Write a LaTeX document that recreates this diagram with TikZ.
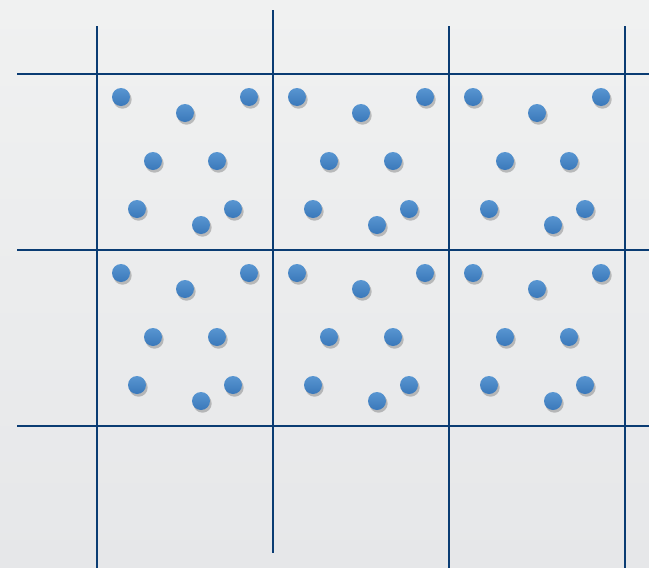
\documentclass[tikz,border=0pt]{standalone}
\usetikzlibrary{calc}
\definecolor{gridblue}{RGB}{10,60,115}
\definecolor{dotblue}{RGB}{70,138,204}
\definecolor{dotshade}{RGB}{58,120,186}
\definecolor{bgtop}{RGB}{240,241,241}
\definecolor{bgbot}{RGB}{230,231,233}
\tikzset{
  gridline/.style={draw=gridblue, line width=2pt},
  dotshadow/.style={fill=black, opacity=0.22},
  dotfill/.style={top color=dotblue!90!white, bottom color=dotshade},
}
\begin{document}
\begin{tikzpicture}[x=1pt,y=-1pt]
\shade[top color=bgtop, bottom color=bgbot] (0,0) rectangle (649,568);
\useasboundingbox (0,0) rectangle (649,568);
% dots
\foreach \cx in {97,273,449}{
  \foreach \cy in {74,250}{
    \foreach \dx/\dy in {24/23,88/39,152/23,56/87,120/87,40/135,104/151,136/135}{
      \fill[dotshadow] (\cx+\dx+1.5,\cy+\dy+2.5) circle (9.2);
      \shade[dotfill] (\cx+\dx,\cy+\dy) circle (9);
    }
  }
}
% horizontal lines
\foreach \y in {74,250,426}{
  \draw[gridline] (17,\y) -- (649,\y);
}
% vertical lines
\draw[gridline] (97,26) -- (97,568);
\draw[gridline] (273,10) -- (273,553);
\draw[gridline] (449,26) -- (449,568);
\draw[gridline] (625,26) -- (625,568);
\end{tikzpicture}
\end{document}
